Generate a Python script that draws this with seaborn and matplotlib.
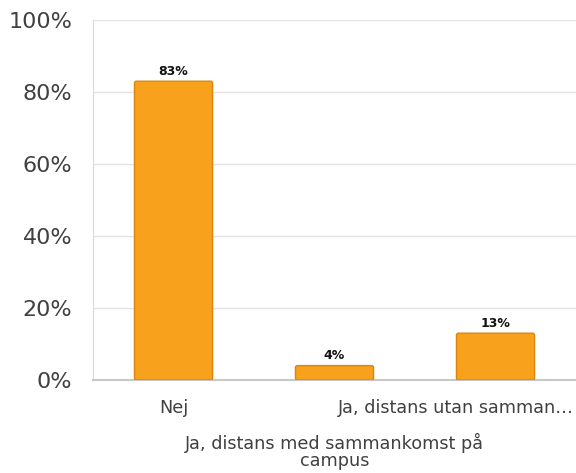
import matplotlib
matplotlib.use("Agg")
import matplotlib.pyplot as plt
import matplotlib.transforms as mtransforms
from matplotlib.patches import FancyBboxPatch
import seaborn as sns
import pandas as pd

categories = ["Nej", "Ja, distans med sammankomst på campus", "Ja, distans utan sammankomst"]
tick_labels = ["Nej", "Ja, distans med sammankomst på\ncampus", "Ja, distans utan samman…"]
shares = [83, 4, 13]
y_ticks = [0, 20, 40, 60, 80, 100]

sns.set_style("white")
plt.rcParams['font.family'] = ['DejaVu Sans']

df = pd.DataFrame({"svar": categories, "andel": shares})

fig = plt.figure(figsize=(5.76, 4.73), dpi=100)
ax = fig.add_axes([0.1615, 0.1966, 0.8385, 0.7611])

sns.barplot(data=df, x="svar", y="andel", color="#F7A11C", saturation=1,
            width=0.485, edgecolor="#D9860E", linewidth=1, ax=ax, zorder=3)

ax.set_xlim(-0.5, 2.5)
ax.set_ylim(0, 100)

# slightly rounded bar corners, like the original
for bar in list(ax.patches):
    rb = FancyBboxPatch((bar.get_x(), bar.get_y()), bar.get_width(), bar.get_height(),
                        boxstyle="round,pad=0,rounding_size=0.012", mutation_aspect=44,
                        facecolor=bar.get_facecolor(), edgecolor=bar.get_edgecolor(),
                        linewidth=1, zorder=3)
    ax.add_patch(rb)
    bar.set_visible(False)

ax.set_yticks(y_ticks)
ax.set_yticklabels([f"{v}%" for v in y_ticks], fontsize=16, color="#404040")
ax.yaxis.grid(True, color="#E3E3E3", linewidth=1, zorder=0)
ax.tick_params(axis="y", length=0, pad=15)
ax.tick_params(axis="x", length=0, pad=14)

ax.set_xticks(range(len(tick_labels)))
ax.set_xticklabels(tick_labels, fontsize=12.7, color="#404040")
ticks = ax.xaxis.get_major_ticks()
ticks[1].set_pad(38)
ticks[1].label1.set_linespacing(0.95)
# last label is cut to the figure edge in the original
last = ticks[2].label1
last.set_horizontalalignment("right")
last.set_transform(last.get_transform() + mtransforms.ScaledTranslation(0.785, 0, fig.dpi_scale_trans))

for side in ["top", "right"]:
    ax.spines[side].set_visible(False)
ax.spines["left"].set_color("#DADADA")
ax.spines["bottom"].set_color("#C8C8C8")
ax.spines["bottom"].set_linewidth(1.5)

for i, v in enumerate(shares):
    ax.annotate(f"{v}%", (i, v), xytext=(0, 2.5), textcoords="offset points",
                ha="center", va="bottom", fontsize=9, fontweight="bold", color="#111111")

ax.set_xlabel("")
ax.set_ylabel("")
fig.savefig("out.png", dpi=100)
